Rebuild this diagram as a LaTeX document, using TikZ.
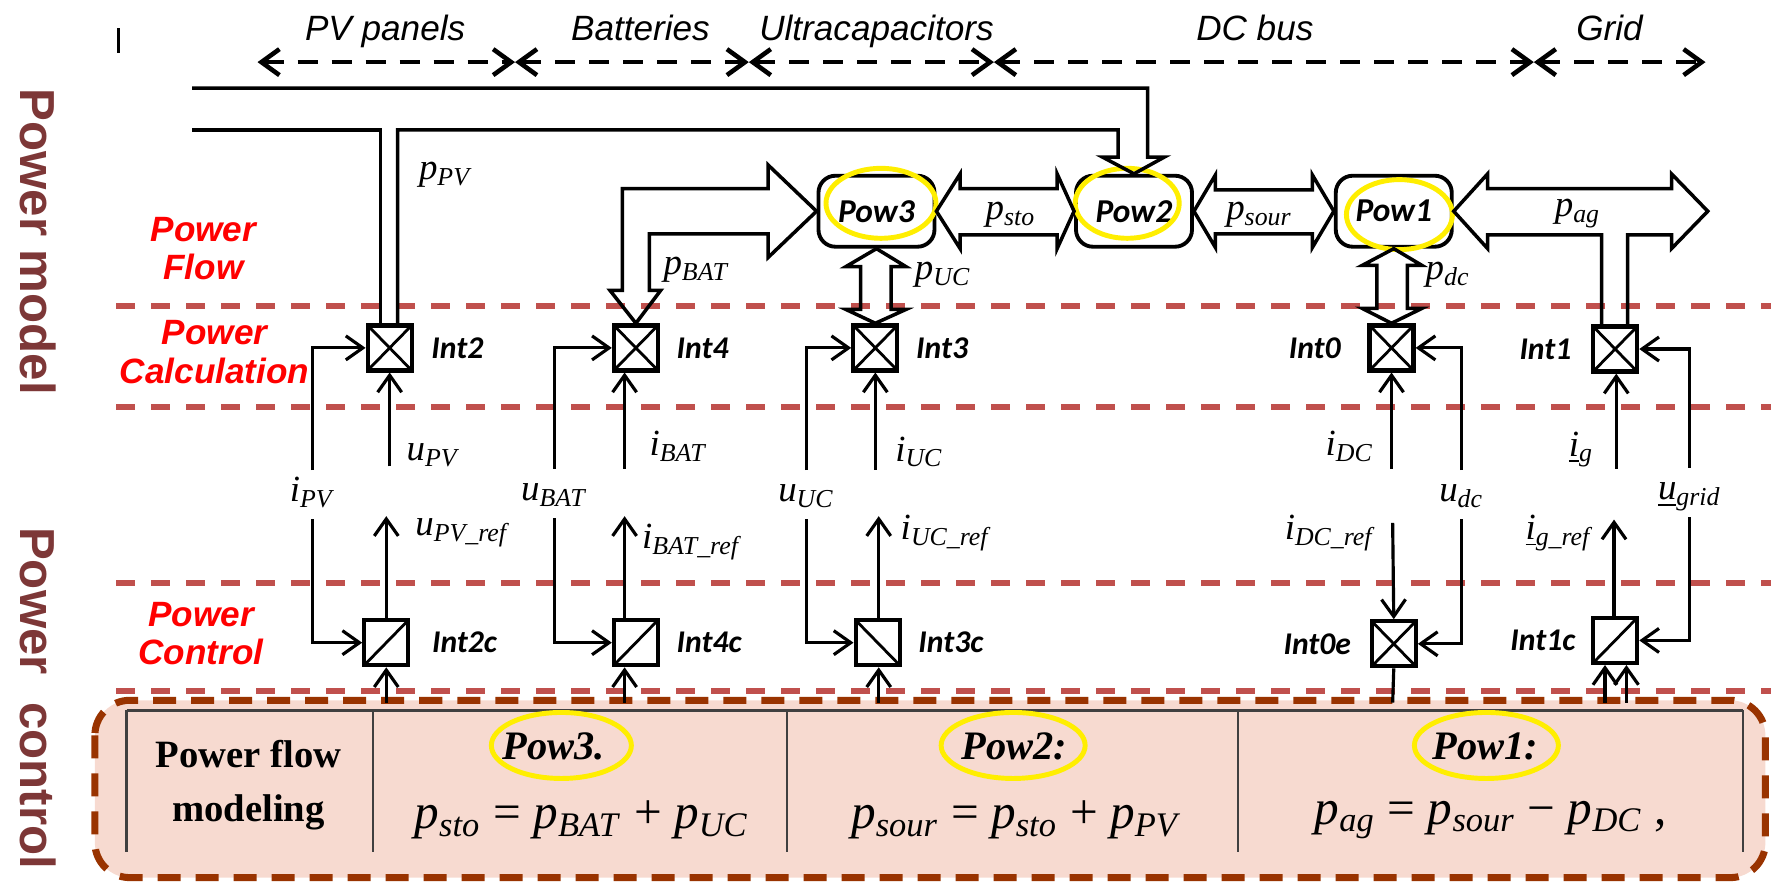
\documentclass[tikz,border=0pt]{standalone}
\usepackage{fontspec}
\setmainfont{Liberation Serif}
\setsansfont{Liberation Sans}
\newfontfamily\calfont{Carlito}
\usepackage{xcolor}
\usetikzlibrary{arrows.meta,positioning}

\definecolor{secred}{RGB}{255,0,0}
\definecolor{dashred}{RGB}{192,80,77}
\definecolor{boxbrown}{RGB}{153,51,0}
\definecolor{boxpink}{RGB}{247,218,208}
\definecolor{sidebrown}{RGB}{125,55,55}
\definecolor{ringyellow}{RGB}{255,238,0}

\newcommand\sv[2]{\textit{#1}\textsubscript{\textit{#2}}}

\tikzset{
  sig/.style={line width=0.9pt,-{Straight Barb[length=1.7mm,width=2.4mm]}},
  wire/.style={line width=0.9pt},
  pipe/.style={line width=1pt,line join=miter},
  blk/.style={draw,line width=1.2pt,minimum width=4.4mm,minimum height=4.5mm,inner sep=0pt},
  mulbox/.style={blk,path picture={\draw[line width=0.8pt] (path picture bounding box.north west)--(path picture bounding box.south east) (path picture bounding box.north east)--(path picture bounding box.south west);}},
  fwdbox/.style={blk,path picture={\draw[line width=0.8pt] (path picture bounding box.south west)--(path picture bounding box.north east);}},
  bckbox/.style={blk,path picture={\draw[line width=0.8pt] (path picture bounding box.north west)--(path picture bounding box.south east);}},
  powbox/.style={draw,line width=1.1pt,rounded corners=1.7mm,minimum width=11.6mm,minimum height=7.1mm,inner sep=0pt,font=\calfont\bfseries\itshape\fontsize{9.5}{9.5}\selectfont},
  intlbl/.style={inner sep=0pt,font=\calfont\bfseries\itshape\fontsize{9}{9}\selectfont},
  var/.style={inner sep=0pt,font=\fontsize{10.5}{10.5}\selectfont},
  vlbl/.style={var,text height=7pt,text depth=3pt,inner ysep=1.8pt},
  dom/.style={anchor=base,inner sep=0pt,font=\sffamily\itshape\fontsize{10}{10}\selectfont},
  span/.style={line width=1.3pt,dash pattern=on 2mm off 1.4mm,{Straight Barb[length=1.8mm,width=2.6mm]}-{Straight Barb[length=1.8mm,width=2.6mm]}},
  sepline/.style={dashred,line width=1.7pt,dash pattern=on 1.9mm off 1.6mm},
  sect/.style={text=secred,align=center,font=\sffamily\bfseries\itshape\fontsize{10}{11}\selectfont},
  side/.style={rotate=-90,text=sidebrown,font=\sffamily\bfseries\fontsize{14}{14}\selectfont},
  ring/.style={draw=ringyellow,line width=1.4pt},
  tline/.style={line width=0.6pt,black!75},
  tabtxt/.style={align=center,font=\bfseries\fontsize{11}{15.5}\selectfont},
  powtag/.style={font=\bfseries\itshape\fontsize{11.5}{11.5}\selectfont},
  eqn/.style={font=\fontsize{14}{14}\selectfont}
}

\begin{document}
\begin{tikzpicture}[x=0.11295mm,y=-0.11295mm]
\useasboundingbox (0,0) rectangle (1568,780);

% side titles
\node[side] (pmod) at (34,214) {Power model};
\node[side] (pctl) at (34,618) {Power\ \ control};
\draw[line width=0.8pt] (105,25) -- (105,47);

% domains on top
\node[dom] (dpv) at (341,36) {PV panels};
\node[dom] (dbat) at (567,36) {Batteries};
\node[dom] (duc) at (776,36) {Ultracapacitors};
\node[dom] (ddc) at (1111,36) {DC bus};
\node[dom] (dgr) at (1425,36) {Grid};
\coordinate (s0) at (228,55);
\coordinate (s1) at (456,55);
\coordinate (s2) at (663,55);
\coordinate (s3) at (880,55);
\coordinate (s4) at (1358,55);
\coordinate (s5) at (1510,55);
\draw[span] (s0) -- (s1);
\draw[span] (s1) -- (s2);
\draw[span] (s2) -- (s3);
\draw[span] (s3) -- (s4);
\draw[span] (s4) -- (s5);

% layers
\foreach \yy in {271,360,516,612} \draw[sepline] (103,\yy) -- (1568,\yy);
\node[sect] (lflow) at (180,220) {Power\\Flow};
\node[sect] (lcalc) at (190,312) {Power\\Calculation};
\node[sect] (lctrl) at (178,561) {Power\\Control};

% modeling table
\draw[boxbrown,line width=2pt,dash pattern=on 2.3mm off 1.5mm,fill=boxpink,rounded corners=3.5mm] (84,620) rectangle (1563,777);
\draw[tline] (112,629) -- (1543,629);
\foreach \xx in {112,330,697,1096,1543} \draw[tline] (\xx,629) -- (\xx,754);
\node[tabtxt] (thead) at (220,695) {Power flow\\modeling};
\node[powtag] (t3) at (490,661) {Pow3.};
\node[powtag] (t2) at (898,661) {Pow2:};
\node[powtag] (t1) at (1315,661) {Pow1:};
\node[eqn] (e3) at (515,726) {\sv{p}{sto} = \sv{p}{BAT} + \sv{p}{UC}};
\node[eqn] (e2) at (900,726) {\sv{p}{sour} = \sv{p}{sto} + \sv{p}{PV}};
\node[eqn] (e1) at (1320,726) {\sv{p}{ag} = \sv{p}{sour} − \sv{p}{DC} ,};
\draw[ring] (497,660) ellipse [x radius=7mm,y radius=3.3mm];
\draw[ring] (897,660) ellipse [x radius=7.2mm,y radius=3.3mm];
\draw[ring] (1316,660) ellipse [x radius=7.2mm,y radius=3.3mm];

% power nodes
\node[powbox] (pow3) at (776,187) {Pow3};
\node[powbox] (pow2) at (1004,187) {Pow2};
\node[powbox] (pow1) at (1234,187) {Pow1};
\draw[ring] (780,180) ellipse [x radius=5.5mm,y radius=3.5mm];
\draw[ring] (998,180) ellipse [x radius=5.2mm,y radius=3.5mm];
\draw[ring] (1239,190) ellipse [x radius=5.3mm,y radius=3.5mm];

% interaction blocks
\node[mulbox] (i2) at (345,308) {};
\node[mulbox] (i4) at (563,308) {};
\node[mulbox] (i3) at (775,308) {};
\node[mulbox] (i0) at (1232,308) {};
\node[mulbox] (i1) at (1430,309) {};
\node[fwdbox] (i2c) at (342,569) {};
\node[fwdbox] (i4c) at (563,569) {};
\node[bckbox] (i3c) at (777,569) {};
\node[mulbox] (i0e) at (1234,570) {};
\node[fwdbox] (i1c) at (1430,567) {};
\node[intlbl,right=1.7mm of i2] (i2l) {Int2};
\node[intlbl,right=1.6mm of i4] (i4l) {Int4};
\node[intlbl,right=1.6mm of i3] (i3l) {Int3};
\node[intlbl,left=2.6mm of i0] (i0l) {Int0};
\node[intlbl,left=1.9mm of i1] (i1l) {Int1};
\node[intlbl,right=2.1mm of i2c] (i2cl) {Int2c};
\node[intlbl,right=1.6mm of i4c] (i4cl) {Int4c};
\node[intlbl,right=1.6mm of i3c] (i3cl) {Int3c};
\node[intlbl,left=1.8mm of i0e] (i0el) {Int0e};
\node[intlbl,left=1.5mm of i1c] (i1cl) {Int1c};

% power flow arrows
\coordinate (busA) at (170,78);
\coordinate (busB) at (170,115);
\draw[pipe] (busA) -- (1016,78) -- (1016,139) -- (1031,139) -- (pow2.north) -- (976,139) -- (990,139) -- (990,115) -- (352,115) -- (i2.north -| 352,0);
\draw[pipe] (busB) -- (337,115) -- (i2.north -| 337,0);
\draw[pipe] (pow3.west) -- (680,146) -- (680,167) -- (551,167) -- (551,257) -- (540,257) -- (i4.north) -- (585,257) -- (575,257) -- (575,207) -- (680,207) -- (680,228) -- cycle;
\draw[pipe] (pow3.south) -- (749,236) -- (762,236) -- (762,274) -- (749,274) -- (i3.north) -- (802,274) -- (789,274) -- (789,236) -- (802,236) -- cycle;
\draw[pipe] (pow1.south) -- (1206,235) -- (1219,235) -- (1219,273) -- (1206,273) -- (i0.north) -- (1259,273) -- (1246,273) -- (1246,235) -- (1259,235) -- cycle;
\draw[pipe] (pow3.east) -- (850,154) -- (850,167) -- (936,167) -- (936,154) -- (pow2.west) -- (936,220) -- (936,208) -- (850,208) -- (850,220) -- cycle;
\draw[pipe] (pow2.east) -- (1076,155) -- (1076,168) -- (1162,168) -- (1162,155) -- (pow1.west) -- (1162,219) -- (1162,207) -- (1076,207) -- (1076,219) -- cycle;
\coordinate (agtip) at (1512,187);
\draw[pipe] (i1.north -| 1441,0) -- (1441,208) -- (1480,208) -- (1480,220) -- (agtip) -- (1480,154) -- (1480,167) -- (1317,167) -- (1317,154) -- (pow1.east) -- (1317,220) -- (1317,208) -- (1418,208) -- (i1.north -| 1418,0);
\node[var] (ppv) at (395,155) {\sv{p}{PV}};
\node[var] (pbat) at (617,239) {\sv{p}{BAT}};
\node[var] (puc) at (835,243) {\sv{p}{UC}};
\node[var] (psto) at (895,190) {\sv{p}{sto}};
\node[var] (psour) at (1115,190) {\sv{p}{sour}};
\node[var] (pdc) at (1282,243) {\sv{p}{dc}};
\node[var] (pag) at (1397,189) {\sv{p}{ag}};

% measured and reference signals
\node[vlbl] (lipv) at (277,438) {\sv{i}{PV}};
\node[vlbl] (lubat) at (491,437) {\sv{u}{BAT}};
\node[vlbl] (luuc) at (714,438) {\sv{u}{UC}};
\node[vlbl] (ludc) at (1294,438) {\sv{u}{dc}};
\node[vlbl] (lugr) at (1496,436) {\sv{\underline{u}}{grid}};
\draw[sig] (lipv.north) |- (i2.west);
\draw[sig] (lipv.south) |- (i2c.west);
\draw[sig] (lubat.north) |- (i4.west);
\draw[sig] (lubat.south) |- (i4c.west);
\draw[sig] (luuc.north) |- (i3.west);
\draw[sig] (luuc.south) |- (i3c.west);
\draw[sig] (ludc.north) |- (i0.east);
\draw[sig] (ludc.south) |- (i0e.east);
\draw[sig] (lugr.north) |- (i1.east);
\draw[sig] (lugr.south) |- (i1c.east);

\coordinate (upv) at (345,413);
\coordinate (ibat) at (553,415);
\coordinate (iuc) at (775,416);
\coordinate (idc) at (1232,415);
\coordinate (ig) at (1431,415);
\draw[sig] (upv) -- (i2.south);
\draw[sig] (ibat) -- (ibat |- i4.south);
\draw[sig] (iuc) -- (i3.south);
\draw[sig] (idc) -- (i0.south);
\draw[sig] (ig) -- (ig |- i1.south);
\node[var] (lupv) at (384,403) {\sv{u}{PV}};
\node[var] (libat) at (601,395) {\sv{i}{BAT}};
\node[var] (liuc) at (814,400) {\sv{i}{UC}};
\node[var] (lidc) at (1195,395) {\sv{i}{DC}};
\node[var] (lig) at (1400,398) {\sv{\underline{i}}{g}};

\coordinate (upvref) at (342,457);
\coordinate (ibatref) at (553,457);
\coordinate (iucref) at (778,457);
\coordinate (idcref) at (1233,463);
\coordinate (igref) at (1429,460);
\draw[sig] (i2c.north) -- (upvref);
\draw[sig] (ibatref |- i4c.north) -- (ibatref);
\draw[sig] (iucref |- i3c.north) -- (iucref);
\draw[sig] (idcref) -- (i0e.north);
\draw[sig] (igref |- i1c.north) -- (igref);
\node[var] (lupvr) at (410,472) {\sv{u}{PV\_ref}};
\node[var] (libatr) at (613,480) {\sv{i}{BAT\_ref}};
\node[var] (liucr) at (838,472) {\sv{i}{UC\_ref}};
\node[var] (lidcr) at (1178,472) {\sv{i}{DC\_ref}};
\node[var] (ligr) at (1381,472) {\sv{\underline{i}}{g\_ref}};

% control inputs from below
\coordinate (bpv) at (342,622);
\coordinate (bbat) at (553,622);
\coordinate (buc) at (778,622);
\coordinate (bdc) at (1233,622);
\coordinate (bg1) at (1421,622);
\coordinate (bg2) at (1440,622);
\draw[sig] (bpv) -- (i2c.south);
\draw[sig] (bbat) -- (bbat |- i4c.south);
\draw[sig] (buc) -- (buc |- i3c.south);
\draw[wire] (i0e.south) -- (bdc);
\draw[sig] (bg1) -- (bg1 |- i1c.south);
\draw[sig] (bg2) -- (bg2 |- i1c.south);
\end{tikzpicture}
\end{document}
